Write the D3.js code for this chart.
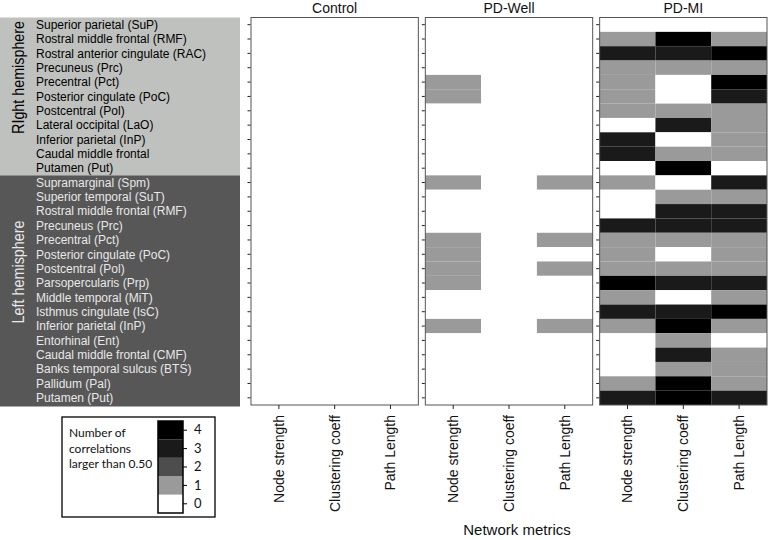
<!DOCTYPE html>
<html><head><meta charset="utf-8">
<script src="https://cdn.jsdelivr.net/npm/d3@7"></script>
<style>body{margin:0;background:#fff;}svg{display:block;font-family:"Liberation Sans",Arial,sans-serif;}</style>
</head><body><svg id="c" width="768" height="540"></svg>
<script>
const rightRegions = ["Superior parietal (SuP)","Rostral middle frontal (RMF)","Rostral anterior cingulate (RAC)","Precuneus (Prc)","Precentral (Pct)","Posterior cingulate (PoC)","Postcentral (Pol)","Lateral occipital (LaO)","Inferior parietal (InP)","Caudal middle frontal","Putamen (Put)"];
const leftRegions = ["Supramarginal (Spm)","Superior temporal (SuT)","Rostral middle frontal (RMF)","Precuneus (Prc)","Precentral (Pct)","Posterior cingulate (PoC)","Postcentral (Pol)","Parsopercularis (Prp)","Middle temporal (MiT)","Isthmus cingulate (IsC)","Inferior parietal (InP)","Entorhinal (Ent)","Caudal middle frontal (CMF)","Banks temporal sulcus (BTS)","Pallidum (Pal)","Putamen (Put)"];
const hemispheres = ["RIght hemisphere","Left hemisphere"];
const groups = ["Control","PD-Well","PD-MI"];
const metrics = ["Node strength","Clustering coeff","Path Length"];
const legendLevels = [0,1,2,3,4];
const legendTitle = ["Number of","correlations","larger than 0.50"];
const xTitle = "Network metrics";

// rows: right hemisphere (11) then left hemisphere (16); columns: node strength, clustering coeff, path length
const controlVals = [
 [0,0,0],[0,0,0],[0,0,0],[0,0,0],[0,0,0],[0,0,0],[0,0,0],[0,0,0],[0,0,0],[0,0,0],[0,0,0],
 [0,0,0],[0,0,0],[0,0,0],[0,0,0],[0,0,0],[0,0,0],[0,0,0],[0,0,0],[0,0,0],[0,0,0],[0,0,0],[0,0,0],[0,0,0],[0,0,0],[0,0,0],[0,0,0]];
const pdWellVals = [
 [0,0,0],[0,0,0],[0,0,0],[0,0,0],[1,0,0],[1,0,0],[0,0,0],[0,0,0],[0,0,0],[0,0,0],[0,0,0],
 [1,0,1],[0,0,0],[0,0,0],[0,0,0],[1,0,1],[1,0,0],[1,0,1],[1,0,0],[0,0,0],[0,0,0],[1,0,1],[0,0,0],[0,0,0],[0,0,0],[0,0,0],[0,0,0]];
const pdMiVals = [
 [0,0,0],[1,4,1],[3,3,4],[1,1,1],[1,0,4],[1,0,3],[1,1,1],[0,3,1],[3,0,1],[3,1,1],[0,4,0],
 [1,0,3],[0,1,1],[0,3,3],[3,3,3],[1,1,1],[1,0,1],[1,1,1],[4,3,3],[1,0,1],[3,3,4],[1,4,1],[0,1,0],[0,3,1],[0,1,1],[1,4,1],[3,4,3]];
const groupVals = [controlVals, pdWellVals, pdMiVals];

const colors = ["#ffffff","#9a9a9a","#4d4d4d","#1a1a1a","#000000"];
const color = d3.scaleOrdinal().domain(legendLevels).range(colors);

const svg = d3.select("#c");
const regions = rightRegions.concat(leftRegions);
const y = d3.scaleBand().domain(d3.range(regions.length)).range([17.5, 405]);
const gx = d3.scaleBand().domain(groups).range([251, 767]).paddingInner(0.04);

// hemisphere bands
const bandInfo = [
  {name: hemispheres[0], start: 0, end: rightRegions.length - 1, fill: "#bfc1be", text: "#000", len: 113},
  {name: hemispheres[1], start: rightRegions.length, end: regions.length - 1, fill: "#575757", text: "#e8e8e8", len: 103}
];
bandInfo.forEach((b, i) => {
  const y0 = y(b.start), y1 = y(b.end) + y.bandwidth() + (i === 1 ? 1.5 : 0);
  svg.append("rect").attr("x", 0).attr("y", y0).attr("width", 240).attr("height", y1 - y0).attr("fill", b.fill);
  const cy = (y0 + y1) / 2 - 19;
  svg.append("text").attr("transform", `translate(24,${cy}) rotate(-90)`)
    .attr("text-anchor", "middle").attr("font-size", 17).attr("fill", b.text)
    .attr("textLength", b.len).attr("lengthAdjust", "spacingAndGlyphs").text(b.name);
  d3.range(b.start, b.end + 1).forEach(r => {
    svg.append("text").attr("x", 36).attr("y", y(r) + y.bandwidth() / 2).attr("dy", "0.35em")
      .attr("font-size", 12).attr("fill", b.text).text(regions[r]);
  });
});

// panels
groups.forEach((g, gi) => {
  const x = d3.scaleBand().domain(metrics).range([gx(g), gx(g) + gx.bandwidth()]);
  const pg = svg.append("g");
  const cells = [];
  groupVals[gi].forEach((row, r) => row.forEach((v, c) => cells.push({r, m: metrics[c], v})));
  pg.selectAll("rect.cell").data(cells).join("rect").attr("class", "cell")
    .attr("x", d => x(d.m)).attr("y", d => y(d.r))
    .attr("width", x.bandwidth()).attr("height", y.bandwidth())
    .attr("fill", d => color(d.v));
  pg.append("rect").attr("x", gx(g)).attr("y", y.range()[0]).attr("width", gx.bandwidth())
    .attr("height", y.range()[1] - y.range()[0]).attr("fill", "none").attr("stroke", "#555").attr("stroke-width", 1);
  // left ticks
  const ya = d3.axisLeft(y).tickSize(3).tickFormat("");
  pg.append("g").attr("transform", `translate(${gx(g) - 0.5},0)`).call(ya)
    .call(a => a.select(".domain").remove()).selectAll("line").attr("stroke", "#222");
  // bottom axis
  const xa = d3.axisBottom(x).tickSize(4).tickPadding(6);
  const ax = pg.append("g").attr("transform", `translate(0,${y.range()[1]})`).call(xa);
  ax.select(".domain").remove();
  ax.selectAll("line").attr("stroke", "#222");
  ax.selectAll("text").attr("font-size", 14).attr("fill", "#111")
    .attr("font-family", '"Liberation Sans",Arial,sans-serif')
    .attr("transform", "rotate(-90)").attr("text-anchor", "end")
    .attr("x", -10).attr("y", 0).attr("dy", "0.35em");
  // title
  svg.append("text").attr("x", gx(g) + gx.bandwidth() / 2).attr("y", 13)
    .attr("text-anchor", "middle").attr("font-size", 14).attr("fill", "#111").text(g);
});

svg.append("text").attr("x", 517).attr("y", 535).attr("text-anchor", "middle")
  .attr("font-size", 15).attr("fill", "#111").text(xTitle);

// legend
const lg = svg.append("g").attr("font-family", "Lato, 'Open Sans', sans-serif");
lg.append("rect").attr("x", 62).attr("y", 417).attr("width", 153).attr("height", 100)
  .attr("fill", "#fff").attr("stroke", "#000").attr("stroke-width", 1.3);
legendTitle.forEach((t, i) => lg.append("text").attr("x", 69).attr("y", 437 + i * 15.5)
  .attr("font-size", 12).attr("fill", "#111").text(t));
const ly = d3.scaleBand().domain(legendLevels.slice().reverse()).range([421, 513]);
lg.selectAll("rect.lv").data(legendLevels).join("rect").attr("class", "lv")
  .attr("x", 158).attr("y", d => ly(d)).attr("width", 25).attr("height", ly.bandwidth())
  .attr("fill", d => color(d));
lg.append("rect").attr("x", 158).attr("y", 421).attr("width", 25).attr("height", 92)
  .attr("fill", "none").attr("stroke", "#000").attr("stroke-width", 1.5);
const la = lg.append("g").attr("transform", "translate(183,0)")
  .call(d3.axisRight(ly).tickSize(4).tickPadding(7));
la.select(".domain").remove();
la.selectAll("text").attr("font-size", 13).attr("fill", "#111").attr("font-family", "Lato, 'Open Sans', sans-serif");
</script></body></html>
